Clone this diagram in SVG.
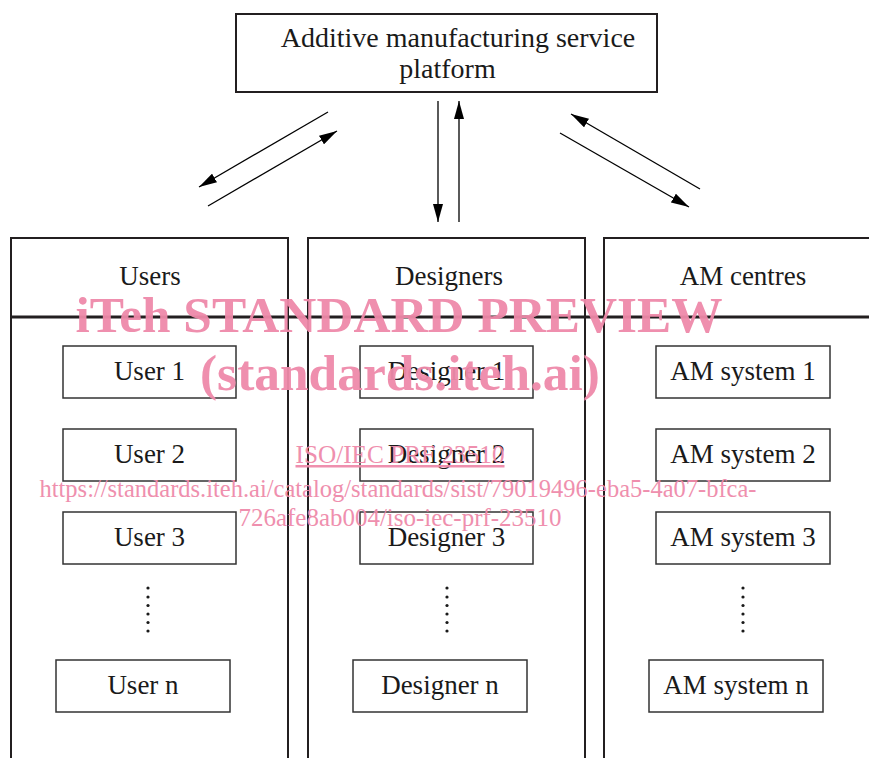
<svg xmlns="http://www.w3.org/2000/svg" width="869" height="758" viewBox="0 0 869 758">
<style>
  text { font-family: "Liberation Serif", "Times New Roman", serif; fill: #1a1a1a; }
  .title { font-size: 28px; }
  .hdr { font-size: 27px; text-anchor: middle; }
  .item { font-size: 27px; text-anchor: middle; }
  .box { fill: #fff; stroke: #333; stroke-width: 1.5; }
  .col { fill: none; stroke: #231f20; stroke-width: 2; }
  .conn { stroke: #000; stroke-width: 1.3; fill: none; marker-end: url(#ah); }
  .dot { fill: #1a1a1a; }
  .wm { fill: #ef8aaa; font-family: "Liberation Serif", "Times New Roman", serif; text-anchor: middle; }
  .wmb { font-size: 50px; font-weight: bold; }
  .wms { font-size: 25px; }
</style>
<defs>
  <marker id="ah" markerUnits="userSpaceOnUse" markerWidth="18" markerHeight="10" refX="18" refY="5" orient="auto">
    <path d="M0,0 L18,5 L0,10 z" fill="#000"/>
  </marker>
</defs>
<rect width="869" height="758" fill="#fff"/>

<g id="platform">
  <rect x="236" y="14" width="421" height="78" fill="#fff" stroke="#231f20" stroke-width="2"/>
  <text class="title" x="458" y="47" text-anchor="middle">Additive manufacturing service</text>
  <text class="title" x="447.5" y="78" text-anchor="middle">platform</text>
</g>

<g id="columns">
  <g id="users">
    <path class="col" d="M11,760 V238 H288 V760"/>
    <text class="hdr" x="150" y="285">Users</text>
  </g>
  <g id="designers">
    <path class="col" d="M308,760 V238 H585 V760"/>
    <text class="hdr" x="449" y="285">Designers</text>
  </g>
  <g id="am-centres">
    <path class="col" d="M604,760 V238 H872"/>
    <text class="hdr" x="743" y="285">AM centres</text>
  </g>
  <line x1="11" y1="317" x2="869" y2="317" stroke="#231f20" stroke-width="3"/>
</g>

<g id="user1"><rect class="box" x="63" y="346" width="173" height="52"/><text class="item" x="149.5" y="380">User 1</text></g>
<g id="user2"><rect class="box" x="63" y="429" width="173" height="52"/><text class="item" x="149.5" y="463">User 2</text></g>
<g id="user3"><rect class="box" x="63" y="512" width="173" height="52"/><text class="item" x="149.5" y="546">User 3</text></g>
<g id="usern"><rect class="box" x="56" y="660" width="174" height="52"/><text class="item" x="143" y="694">User n</text></g>

<g id="designer1"><rect class="box" x="360" y="346" width="173" height="52"/><text class="item" x="446.5" y="380">Designer 1</text></g>
<g id="designer2"><rect class="box" x="360" y="429" width="173" height="52"/><text class="item" x="446.5" y="463">Designer 2</text></g>
<g id="designer3"><rect class="box" x="360" y="512" width="173" height="52"/><text class="item" x="446.5" y="546">Designer 3</text></g>
<g id="designern"><rect class="box" x="353" y="660" width="174" height="52"/><text class="item" x="440" y="694">Designer n</text></g>

<g id="am1"><rect class="box" x="656" y="346" width="174" height="52"/><text class="item" x="743" y="380">AM system 1</text></g>
<g id="am2"><rect class="box" x="656" y="429" width="174" height="52"/><text class="item" x="743" y="463">AM system 2</text></g>
<g id="am3"><rect class="box" x="656" y="512" width="174" height="52"/><text class="item" x="743" y="546">AM system 3</text></g>
<g id="amn"><rect class="box" x="649" y="660" width="174" height="52"/><text class="item" x="736" y="694">AM system n</text></g>

<g id="ellipses">
  <g class="dot">
    <circle cx="148" cy="588" r="1.6"/><circle cx="148" cy="597" r="1.6"/><circle cx="148" cy="605.5" r="1.6"/><circle cx="148" cy="614" r="1.6"/><circle cx="148" cy="622.5" r="1.6"/><circle cx="148" cy="631" r="1.6"/>
    <circle cx="447" cy="588" r="1.6"/><circle cx="447" cy="597" r="1.6"/><circle cx="447" cy="605.5" r="1.6"/><circle cx="447" cy="614" r="1.6"/><circle cx="447" cy="622.5" r="1.6"/><circle cx="447" cy="631" r="1.6"/>
    <circle cx="743" cy="588" r="1.6"/><circle cx="743" cy="597" r="1.6"/><circle cx="743" cy="605.5" r="1.6"/><circle cx="743" cy="614" r="1.6"/><circle cx="743" cy="622.5" r="1.6"/><circle cx="743" cy="631" r="1.6"/>
  </g>
</g>

<g id="connectors">
  <line class="conn" x1="328" y1="112" x2="199" y2="187"/>
  <line class="conn" x1="208" y1="206" x2="337" y2="131"/>
  <line class="conn" x1="438" y1="101" x2="438" y2="222"/>
  <line class="conn" x1="459" y1="222" x2="459" y2="101"/>
  <line class="conn" x1="560" y1="133" x2="689" y2="207"/>
  <line class="conn" x1="700" y1="189" x2="571" y2="114"/>
</g>

<g id="watermark" opacity="0.95">
  <text class="wm wmb" x="399" y="332" textLength="647" lengthAdjust="spacingAndGlyphs">iTeh STANDARD PREVIEW</text>
  <text class="wm wmb" x="400" y="390" textLength="400" lengthAdjust="spacingAndGlyphs">(standards.iteh.ai)</text>
  <text class="wm wms" x="400" y="463" text-decoration="underline" textLength="209" lengthAdjust="spacingAndGlyphs">ISO/IEC PRF 23510</text>
  <text class="wm wms" x="398" y="497" textLength="717" lengthAdjust="spacingAndGlyphs">https://standards.iteh.ai/catalog/standards/sist/79019496-eba5-4a07-bfca-</text>
  <text class="wm wms" x="400" y="526" textLength="323" lengthAdjust="spacingAndGlyphs">726afe8ab004/iso-iec-prf-23510</text>
</g>
</svg>
